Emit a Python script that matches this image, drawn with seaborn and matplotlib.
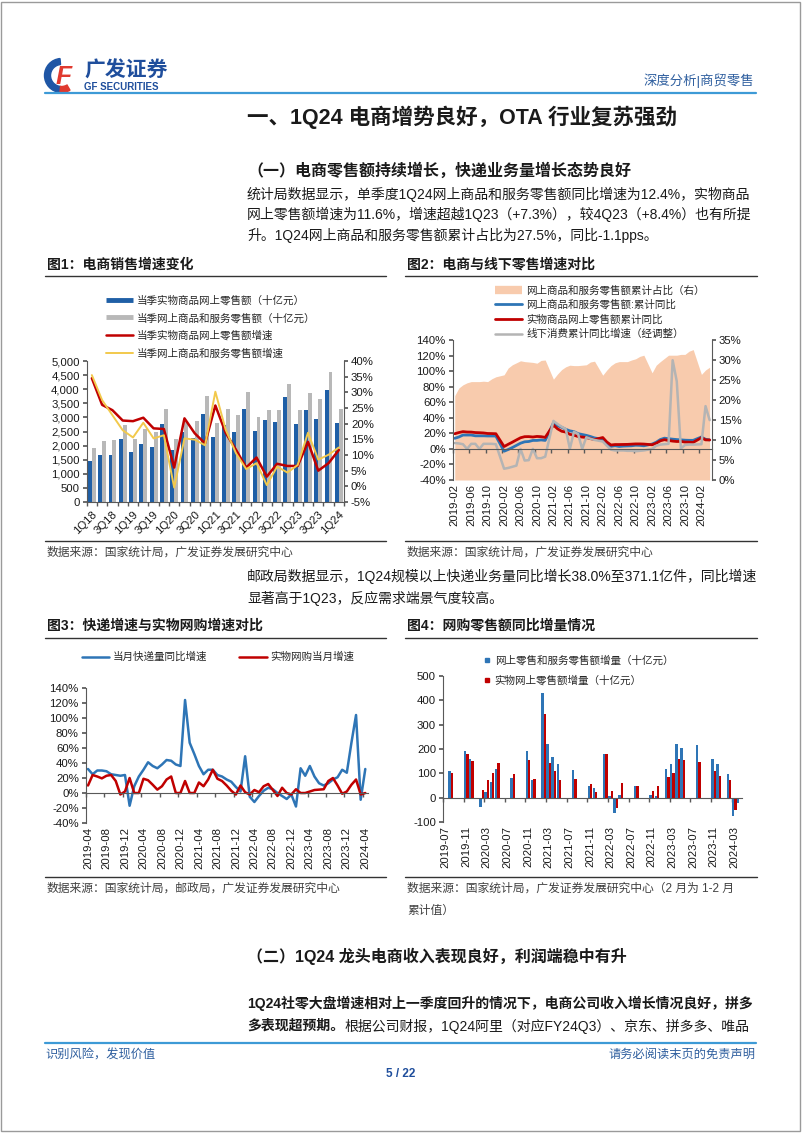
import numpy as np
import pandas as pd
import matplotlib
matplotlib.use("Agg")
import matplotlib.pyplot as plt
import seaborn as sns
from matplotlib.lines import Line2D
from matplotlib.patches import Wedge, Rectangle

nan = np.nan

# ---------------- 图1 电商销售增速变化 (quarterly) ----------------
quarters = ["1Q18", "2Q18", "3Q18", "4Q18", "1Q19", "2Q19", "3Q19", "4Q19",
            "1Q20", "2Q20", "3Q20", "4Q20", "1Q21", "2Q21", "3Q21", "4Q21",
            "1Q22", "2Q22", "3Q22", "4Q22", "1Q23", "2Q23", "3Q23", "4Q23", "1Q24"]
q_physical = [1450, 1660, 1660, 2220, 1780, 2040, 1960, 2750, 1840, 2490, 2260, 3110,
              2300, 2730, 2480, 3300, 2520, 2900, 2820, 3710, 2780, 3280, 2960, 3970, 2810]
q_online = [1930, 2150, 2200, 2730, 2230, 2580, 2500, 3310, 2230, 2880, 2860, 3750,
            2810, 3300, 3070, 3900, 3030, 3280, 3280, 4170, 3280, 3850, 3650, 4600, 3300]
q_physical_g = [34.5, 26.0, 24.3, 21.0, 20.8, 21.9, 18.5, 18.3, 6.0, 21.7, 16.9, 13.7,
                25.8, 17.1, 11.7, 6.0, 9.2, 3.1, 7.2, 6.5, 6.5, 14.2, 5.0, 7.4, 11.6]
q_online_g = [35.5, 27.5, 22.7, 17.9, 15.6, 20.3, 15.3, 16.3, -0.4, 15.3, 14.9, 13.1,
              30.2, 18.1, 10.6, 5.5, 7.4, 0.4, 6.3, 4.4, 6.8, 17.1, 8.5, 10.1, 12.4]

# ---------------- 图2 电商与线下零售增速对比 (monthly, cumulative) ----------------
months2 = pd.period_range("2019-02", "2024-04", freq="M").strftime("%Y-%m").tolist()
share_cum = [21.1, 23.0, 23.8, 24.3, 24.6, 24.6, 24.6, 24.7, 24.6, 25.3, 25.8,
             nan, 26.3, 28.0, 28.8, 29.3, 29.8, 29.6, 29.5, 29.4, 29.2, 29.9, 30.0,
             nan, 25.2, 26.5, 27.6, 28.3, 28.7, 28.6, 28.6, 28.7, 28.8, 29.5, 29.7,
             nan, 26.2, 27.5, 28.6, 29.3, 29.6, 29.6, 29.6, 30.0, 30.3, 30.9, 31.2,
             nan, 26.8, 28.7, 29.6, 30.4, 31.2, 31.2, 31.2, 31.4, 31.4, 32.2, 32.6,
             nan, 26.4, 27.5, 28.2]
online_cum = [13.6, 15.3, 17.8, 17.8, 17.8, 16.8, 16.8, 16.8, 16.6, 16.6, 16.5,
              nan, -3.0, -0.8, 1.7, 4.5, 7.3, 9.1, 9.5, 10.9, 10.9, 11.5, 10.9,
              nan, 33.4, 29.9, 27.8, 25.2, 23.2, 22.2, 19.6, 18.5, 17.4, 15.9, 14.1,
              nan, 12.2, 6.6, 3.3, 4.1, 3.1, 3.6, 3.8, 4.0, 4.7, 4.5, 4.0,
              nan, 6.2, 8.6, 12.0, 13.8, 13.1, 12.5, 12.0, 11.6, 11.2, 11.0, 11.0,
              nan, 15.3, 12.4, 11.5]
physical_cum = [19.5, 21.0, 22.2, 21.7, 21.6, 21.0, 20.8, 20.5, 19.8, 19.7, 19.5,
                nan, 3.0, 5.9, 8.6, 11.5, 14.3, 15.7, 15.8, 15.3, 16.0, 15.7, 14.8,
                nan, 30.6, 25.8, 22.7, 21.6, 18.7, 17.6, 15.9, 15.2, 14.6, 13.2, 12.0,
                nan, 14.6, 8.8, 5.0, 5.6, 5.6, 5.7, 5.8, 6.1, 6.4, 6.4, 6.2,
                nan, 5.3, 7.3, 10.4, 11.8, 10.8, 10.0, 9.5, 9.6, 8.8, 8.7, 8.4,
                nan, 14.4, 11.6, 11.5]
offline_cum = [7.5, 7.0, 6.0, 0.0, 6.5, 6.5, 0.0, 6.5, 6.5, 6.5, 6.0,
               nan, -25.5, -24.5, -23.0, -21.5, 0.0, -15.0, -14.5, 0.0, -12.0, -12.0, -10.0,
               nan, 36.0, 32.0, 28.5, 25.5, 0.0, 22.0, 19.0, 0.0, 15.0, 13.0, 11.5,
               nan, 9.5, 4.0, -1.0, -2.0, -2.0, -2.0, -2.5, -2.5, -3.0, -2.5, -2.0,
               nan, 0.0, 4.0, 5.5, 6.0, 6.5, 114.0, 87.0, 0.5, 5.0, 5.5, 5.5,
               nan, 6.0, 55.0, 37.0]

# ---------------- 图3 快递增速与实物网购增速对比 (monthly) ----------------
months3 = pd.period_range("2019-04", "2024-04", freq="M").strftime("%Y-%m").tolist()
express_g = [32, 25, 30, 30, 29, 25, 24, 23, 24, -17, 9, 22, 31, 41, 36, 33, 38, 44, 43, 38,
             36, 124, 67, 52, 36, 25, 31, 31, 24, 22, 18, 15, 8, 2, 49, -5, -12, -4, 3, 7,
             5, 0, -4, -8, -2, -18, 33, 23, 36, 22, 13, 10, 13, 18, 21, 31, 27, 67, 104, -9, 32]
netshop_g = [10, 24, 22, 19.5, 23, 24, 16, -2, 2, 20, 0, 0, 19, 17, 11, 4.5, 9, 18, 22, 0,
             0, 16, 0, 0, 14, 9, 18, 31, 19, 16, 10, 3, -2, 10, 1, -2, 4, 1, 9, 12,
             4, -4, 7, 0, -2, 5, 0, 0, 2, 4, 4.5, 5, 16, 20, 10, -1, 2, 11, 18, -2, 0]

# ---------------- 图4 网购零售额同比增量情况 (monthly, 十亿元) ----------------
months4 = pd.period_range("2019-07", "2024-04", freq="M").strftime("%Y-%m").tolist()
online_inc = {"2019-08": 108, "2019-11": 192, "2019-12": 160, "2020-02": -40, "2020-03": 22,
              "2020-04": 65, "2020-05": 118, "2020-08": 80, "2020-11": 192, "2020-12": 72,
              "2021-02": 430, "2021-03": 220, "2021-04": 168, "2021-05": 140, "2021-08": 115,
              "2021-11": 48, "2021-12": 40, "2022-02": 178, "2022-03": 5, "2022-04": -62,
              "2022-05": 12, "2022-08": 48, "2022-11": 12, "2022-12": 5, "2023-02": 118,
              "2023-03": 138, "2023-04": 220, "2023-05": 205, "2023-08": 215, "2023-11": 160,
              "2023-12": 140, "2024-02": 98, "2024-03": -75, "2024-04": -20}
physical_inc = {"2019-08": 103, "2019-11": 178, "2019-12": 152, "2020-02": 30, "2020-03": 72,
                "2020-04": 100, "2020-05": 143, "2020-08": 98, "2020-11": 155, "2020-12": 78,
                "2021-02": 345, "2021-03": 143, "2021-04": 108, "2021-05": 73, "2021-08": 78,
                "2021-11": 58, "2021-12": 22, "2022-02": 180, "2022-03": 27, "2022-04": -42,
                "2022-05": 60, "2022-08": 47, "2022-11": 28, "2022-12": 47, "2023-02": 85,
                "2023-03": 100, "2023-04": 160, "2023-05": 155, "2023-08": 145, "2023-11": 108,
                "2023-12": 90, "2024-02": 72, "2024-03": -50}

# ---------------- style ----------------
C_BLUE = "#1f5fa6"
C_LBLUE = "#2e75b6"
C_GRAY = "#b8b8b8"
C_RED = "#c00000"
C_YEL = "#f2c94c"
C_PEACH = "#f8cbad"
C_NAVY = "#1f4e9c"
C_SPINE = "#595959"
C_TXT = "#1a1a1a"

sns.set_theme(style="white")
plt.rcParams["font.family"] = ["Liberation Sans", "Noto Sans CJK SC"]
plt.rcParams["axes.unicode_minus"] = False

W, H = 802, 1133
fig = plt.figure(figsize=(W / 100, H / 100), dpi=100)
fig.patch.set_facecolor("white")


def fx(x):
    return x / W


def fy(y):
    return 1 - y / H


def box(x0, y0, x1, y1):
    return fig.add_axes([fx(x0), fy(y1), (x1 - x0) / W, (y1 - y0) / H])


def txt(x, y, s, size, weight="normal", color=C_TXT, ha="left", va="center"):
    return fig.text(fx(x), fy(y), s, fontsize=size, fontweight=weight,
                    color=color, ha=ha, va=va)


def rule(x0, x1, y, color="#333333", lw=1.0):
    fig.add_artist(Line2D([fx(x0), fx(x1)], [fy(y), fy(y)], color=color, lw=lw))


def style_spines(ax, keep):
    for s in ["top", "bottom", "left", "right"]:
        ax.spines[s].set_visible(s in keep)
        ax.spines[s].set_color(C_SPINE)
        ax.spines[s].set_linewidth(0.8)


TICK = 8.2

# ---------------- page furniture ----------------
fig.add_artist(Rectangle((fx(1), fy(1131)), (W - 3) / W, 1129 / H, transform=fig.transFigure,
                         fill=False, ec="#9a9a9a", lw=1))

logo = box(43, 57, 80, 94)
logo.set_xlim(0, 37)
logo.set_ylim(0, 37)
logo.set_aspect("equal")
logo.axis("off")
logo.add_patch(Wedge((18.5, 18.5), 17, 95, 265, width=6, color="#1f56a5"))
logo.add_patch(Wedge((18.5, 18.5), 17, 265, 300, width=6, color="#e03a2f"))
logo.text(21, 17, "F", fontsize=19, fontweight="bold", fontstyle="italic",
          color="#e03a2f", ha="center", va="center")

txt(84, 71, "广发证券", 15, "bold", C_NAVY)
txt(84, 87, "GF SECURITIES", 7, "bold", C_NAVY)
txt(754, 81, "深度分析|商贸零售", 9.6, color="#2f5f9f", ha="right")
rule(45, 756, 93, color="#3d9ad6", lw=1.6)

txt(247, 117, "一、1Q24 电商增势良好，OTA 行业复苏强劲", 15.5, "bold")
txt(247, 171, "（一）电商零售额持续增长，快递业务量增长态势良好", 11.5, "bold")
body = ["统计局数据显示，单季度1Q24网上商品和服务零售额同比增速为12.4%，实物商品",
        "网上零售额增速为11.6%，增速超越1Q23（+7.3%），较4Q23（+8.4%）也有所提",
        "升。1Q24网上商品和服务零售额累计占比为27.5%，同比-1.1pps。"]
for i, line in enumerate(body):
    txt(247, 194 + i * 20.5, line, 10)

# chart titles / rules / sources
txt(47, 265, "图1：电商销售增速变化", 10, "bold")
txt(407, 265, "图2：电商与线下零售增速对比", 10, "bold")
rule(45, 386, 276)
rule(405, 757, 276)
rule(45, 386, 541)
rule(405, 757, 541)
txt(47, 553, "数据来源：国家统计局，广发证券发展研究中心", 8.5, color="#404040")
txt(407, 553, "数据来源：国家统计局，广发证券发展研究中心", 8.5, color="#404040")

txt(247, 576, "邮政局数据显示，1Q24规模以上快递业务量同比增长38.0%至371.1亿件，同比增速", 10)
txt(247, 598, "显著高于1Q23，反应需求端景气度较高。", 10)

txt(47, 626, "图3：快递增速与实物网购增速对比", 10, "bold")
txt(407, 626, "图4：网购零售额同比增量情况", 10, "bold")
rule(45, 386, 638)
rule(405, 757, 638)
rule(45, 386, 877)
rule(405, 757, 877)
txt(47, 889, "数据来源：国家统计局，邮政局，广发证券发展研究中心", 8.5, color="#404040")
txt(407, 889, "数据来源：国家统计局，广发证券发展研究中心（2 月为 1-2 月", 8.5, color="#404040")
txt(407, 911, "累计值）", 8.5, color="#404040")

txt(247, 956, "（二）1Q24 龙头电商收入表现良好，利润端稳中有升", 11.5, "bold")
txt(247, 1003, "1Q24社零大盘增速相对上一季度回升的情况下，电商公司收入增长情况良好，拼多", 10, "bold")
t_bold = txt(247, 1026, "多表现超预期。", 10, "bold")
renderer = fig.canvas.get_renderer()
x_end = t_bold.get_window_extent(renderer).x1
txt(x_end, 1026, "根据公司财报，1Q24阿里（对应FY24Q3）、京东、拼多多、唯品", 10)

rule(45, 756, 1043, color="#3d9ad6", lw=1.6)
txt(45, 1055, "识别风险，发现价值", 8.8, color="#2f5f9f")
txt(755, 1055, "请务必阅读末页的免责声明", 8.8, color="#2f5f9f", ha="right")
txt(401, 1074, "5 / 22", 8.5, "bold", C_NAVY, ha="center")

# ---------------- 图1 ----------------
lab_b1 = "当季实物商品网上零售额（十亿元）"
lab_b2 = "当季网上商品和服务零售额（十亿元）"
lab_l1 = "当季实物商品网上零售额增速"
lab_l2 = "当季网上商品和服务零售额增速"

ax1 = box(86.7, 361, 344, 502)
df1 = pd.DataFrame({"quarter": quarters * 2,
                    "value": q_physical + q_online,
                    "series": [lab_b1] * len(quarters) + [lab_b2] * len(quarters)})
sns.barplot(data=df1, x="quarter", y="value", hue="series", order=quarters,
            hue_order=[lab_b1, lab_b2], palette=[C_BLUE, C_GRAY], saturation=1,
            width=0.76, errorbar=None, legend=False, linewidth=0, ax=ax1)
ax1.set_xlim(-0.5, len(quarters) - 0.5)
ax1.set_ylim(0, 5000)
ax1.set_yticks(range(0, 5001, 500))
ax1.set_yticklabels([f"{v:,}" for v in range(0, 5001, 500)])
ax1.set_xticks(range(0, len(quarters), 2))
ax1.set_xticklabels(quarters[::2], rotation=45, ha="right", rotation_mode="anchor")
ax1.set_xticks(np.arange(-0.5, len(quarters), 1), minor=True)
ax1.tick_params(axis="x", which="major", length=0, pad=5, labelsize=TICK, colors=C_TXT)
ax1.tick_params(axis="x", which="minor", length=3, color=C_SPINE, bottom=True)
ax1.tick_params(axis="y", length=3, color=C_SPINE, labelsize=TICK, colors=C_TXT, left=True, pad=2)
ax1.set_xlabel("")
ax1.set_ylabel("")
style_spines(ax1, ["left", "bottom"])

ax1b = ax1.twinx()
xq = np.arange(len(quarters))
sns.lineplot(x=xq, y=q_physical_g, color=C_RED, linewidth=1.8, ax=ax1b)
sns.lineplot(x=xq, y=q_online_g, color=C_YEL, linewidth=1.4, ax=ax1b)
ax1b.set_ylim(-5, 40)
ax1b.set_yticks(range(-5, 41, 5))
ax1b.set_yticklabels([f"{v}%" for v in range(-5, 41, 5)])
ax1b.tick_params(axis="y", length=3, color=C_SPINE, labelsize=TICK, colors=C_TXT, right=True, pad=2)
ax1b.set_ylabel("")
style_spines(ax1b, ["right"])

h1 = [Line2D([], [], color=C_BLUE, lw=3.5, solid_capstyle="butt"),
      Line2D([], [], color=C_GRAY, lw=3.5, solid_capstyle="butt"),
      Line2D([], [], color=C_RED, lw=1.8),
      Line2D([], [], color=C_YEL, lw=1.4)]
fig.legend(h1, [lab_b1, lab_b2, lab_l1, lab_l2], loc="upper left",
           bbox_to_anchor=(fx(106), fy(295)), frameon=False, fontsize=7.6,
           handlelength=2.6, handletextpad=0.35, labelspacing=0.7,
           borderpad=0, borderaxespad=0)

# ---------------- 图2 ----------------
lab2 = ["网上商品和服务零售额累计占比（右）", "网上商品和服务零售额:累计同比",
        "实物商品网上零售额累计同比", "线下消费累计同比增速（经调整）"]
df2 = pd.DataFrame({"idx": np.arange(len(months2)), "share": share_cum, "online": online_cum,
                    "physical": physical_cum, "offline": offline_cum})
ax2 = box(452.7, 340, 711.7, 480)
d_share = df2.dropna(subset=["share"])
ax2.fill_between(d_share["idx"], 0, d_share["share"], color=C_PEACH, lw=0)
ax2.set_xlim(-0.5, len(months2) - 0.5)
ax2.set_ylim(0, 35)
ax2.set_yticks(range(0, 36, 5))
ax2.set_yticklabels([f"{v}%" for v in range(0, 36, 5)])
ax2.set_xticks(np.arange(0, len(months2), 4))
ax2.set_xticklabels(months2[::4], rotation=90)
ax2.tick_params(axis="x", which="both", length=0, pad=3, labelsize=TICK, colors=C_TXT)

ax2b = ax2.twinx()
ax2.yaxis.tick_right()
ax2b.yaxis.tick_left()
ax2.tick_params(axis="y", length=3, color=C_SPINE, labelsize=TICK, colors=C_TXT, right=True, left=False, pad=2)
for col, c, lw in [("online", C_LBLUE, 2.0), ("physical", C_RED, 2.0), ("offline", "#b4b4b4", 1.8)]:
    d = df2.dropna(subset=[col])
    sns.lineplot(data=d, x="idx", y=col, color=c, linewidth=lw, ax=ax2b)
ax2b.set_ylim(-40, 140)
ax2b.set_yticks(range(-40, 141, 20))
ax2b.set_yticklabels([f"{v}%" for v in range(-40, 141, 20)])
ax2b.tick_params(axis="y", length=3, color=C_SPINE, labelsize=TICK, colors=C_TXT, left=True, right=False, pad=2)
ax2b.xaxis.set_visible(True)
ax2b.set_xticks(np.arange(-0.5, len(months2), 4), minor=True)
ax2b.tick_params(axis="x", which="major", length=0, labelbottom=False)
ax2b.tick_params(axis="x", which="minor", length=3, color=C_SPINE, bottom=True, labelbottom=False)
ax2b.set_xlabel("")
ax2b.set_ylabel("")
ax2.set_ylabel("")
style_spines(ax2, ["right"])
style_spines(ax2b, ["left", "bottom"])
ax2b.spines["bottom"].set_position(("data", 0))

h2 = [Line2D([], [], color=C_PEACH, lw=6, solid_capstyle="butt"),
      Line2D([], [], color=C_LBLUE, lw=2.0),
      Line2D([], [], color=C_RED, lw=2.0),
      Line2D([], [], color="#b4b4b4", lw=1.8)]
fig.legend(h2, lab2, loc="upper left", bbox_to_anchor=(fx(495), fy(285)), frameon=False,
           fontsize=7.6, handlelength=2.6, handletextpad=0.35, labelspacing=0.4,
           borderpad=0, borderaxespad=0)

# ---------------- 图3 ----------------
lab3 = ["当月快递量同比增速", "实物网购当月增速"]
ax3 = box(85.7, 688, 367.6, 823)
df3 = pd.DataFrame({"idx": np.arange(len(months3)), "express": express_g, "netshop": netshop_g})
sns.lineplot(data=df3, x="idx", y="express", color=C_LBLUE, linewidth=1.8, ax=ax3)
sns.lineplot(data=df3, x="idx", y="netshop", color=C_RED, linewidth=1.8, ax=ax3)
ax3.set_xlim(-0.5, len(months3) - 0.5)
ax3.set_ylim(-40, 140)
ax3.set_yticks(range(-40, 141, 20))
ax3.set_yticklabels([f"{v}%" for v in range(-40, 141, 20)])
ax3.tick_params(axis="y", length=3, color=C_SPINE, labelsize=TICK, colors=C_TXT, left=True, pad=2)
ax3.set_xticks(np.arange(0, len(months3), 4))
ax3.set_xticks(np.arange(-0.5, len(months3), 4), minor=True)
ax3.tick_params(axis="x", which="major", length=0, labelbottom=False)
ax3.tick_params(axis="x", which="minor", length=3, color=C_SPINE, bottom=True)
ax3.set_xlabel("")
ax3.set_ylabel("")
style_spines(ax3, ["left", "bottom"])
ax3.spines["bottom"].set_position(("data", 0))
sec3 = ax3.secondary_xaxis("bottom")
sec3.set_xticks(np.arange(0, len(months3), 4))
sec3.set_xticklabels(months3[::4], rotation=90)
sec3.tick_params(length=0, pad=3, labelsize=TICK, colors=C_TXT)
sec3.spines["bottom"].set_visible(False)

h3 = [Line2D([], [], color=C_LBLUE, lw=1.8), Line2D([], [], color=C_RED, lw=1.8)]
fig.legend(h3, lab3, loc="upper left", bbox_to_anchor=(fx(82), fy(652)), frameon=False,
           fontsize=7.6, ncol=2, handlelength=2.6, handletextpad=0.35, columnspacing=3.0,
           borderpad=0, borderaxespad=0)

# ---------------- 图4 ----------------
lab4 = ["网上零售和服务零售额增量（十亿元）", "实物网上零售额增量（十亿元）"]
ax4 = box(443, 676, 742, 822)
rows4 = [(m, lab4[0], v) for m, v in online_inc.items()] + \
        [(m, lab4[1], v) for m, v in physical_inc.items()]
df4 = pd.DataFrame(rows4, columns=["month", "series", "value"])
sns.barplot(data=df4, x="month", y="value", hue="series", order=months4, hue_order=lab4,
            palette=[C_LBLUE, C_RED], saturation=1, width=0.92, errorbar=None,
            legend=False, linewidth=0, ax=ax4)
ax4.set_xlim(-0.5, len(months4) - 0.5)
ax4.set_ylim(-100, 500)
ax4.set_yticks(range(-100, 501, 100))
ax4.set_yticklabels([str(v) for v in range(-100, 501, 100)])
ax4.tick_params(axis="y", length=3, color=C_SPINE, labelsize=TICK, colors=C_TXT, left=True, pad=2)
ax4.set_xticks(np.arange(0, len(months4), 4))
ax4.set_xticks(np.arange(-0.5, len(months4), 4), minor=True)
ax4.tick_params(axis="x", which="major", length=0, labelbottom=False)
ax4.tick_params(axis="x", which="minor", length=3, color=C_SPINE, bottom=True)
ax4.set_xlabel("")
ax4.set_ylabel("")
style_spines(ax4, ["left", "bottom"])
ax4.spines["bottom"].set_position(("data", 0))
sec4 = ax4.secondary_xaxis("bottom")
sec4.set_xticks(np.arange(0, len(months4), 4))
sec4.set_xticklabels(months4[::4], rotation=90)
sec4.tick_params(length=0, pad=3, labelsize=TICK, colors=C_TXT)
sec4.spines["bottom"].set_visible(False)

h4 = [Line2D([], [], color=C_LBLUE, marker="s", markersize=3.5, lw=0),
      Line2D([], [], color=C_RED, marker="s", markersize=3.5, lw=0)]
fig.legend(h4, lab4, loc="upper left", bbox_to_anchor=(fx(484), fy(655)), frameon=False,
           fontsize=7.6, handlelength=0.6, handletextpad=0.4, labelspacing=0.95,
           borderpad=0, borderaxespad=0)

fig.savefig("out.png", dpi=100)
